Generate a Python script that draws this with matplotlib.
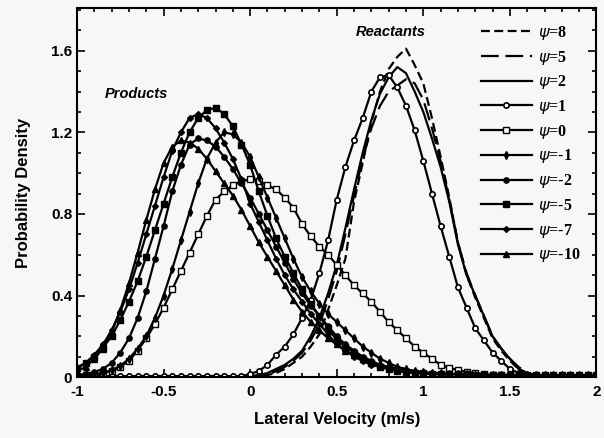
import matplotlib
matplotlib.use("Agg")
import matplotlib.pyplot as plt
from matplotlib.ticker import FixedLocator, FixedFormatter, MultipleLocator

# lateral velocity grid (m/s)
vel = [-1.0, -0.95, -0.9, -0.85, -0.8, -0.75, -0.7, -0.65, -0.6, -0.55,
       -0.5, -0.45, -0.4, -0.35, -0.3, -0.25, -0.2, -0.15, -0.1, -0.05,
       0.0, 0.05, 0.1, 0.15, 0.2, 0.25, 0.3, 0.35, 0.4, 0.45,
       0.5, 0.55, 0.6, 0.65, 0.7, 0.75, 0.8, 0.85, 0.9, 0.95,
       1.0, 1.05, 1.1, 1.15, 1.2, 1.25, 1.3, 1.35, 1.4, 1.45,
       1.5, 1.55, 1.6, 1.65, 1.7, 1.75, 1.8, 1.85, 1.9, 1.95, 2.0]

# reactant side
psi_8 = [0, 0, 0, 0, 0, 0, 0, 0, 0, 0,
         0, 0, 0, 0, 0, 0, 0, 0, 0, 0,
         0, 0.005, 0.01, 0.02, 0.04, 0.07, 0.10, 0.15, 0.21, 0.33,
         0.45, 0.58, 0.86, 1.05, 1.25, 1.40, 1.51, 1.57, 1.61, 1.53,
         1.44, 1.27, 1.08, 0.88, 0.66, 0.50, 0.39, 0.29, 0.19, 0.13,
         0.08, 0.04, 0.02, 0.01, 0.005, 0, 0, 0, 0, 0, 0]
psi_5 = [0, 0, 0, 0, 0, 0, 0, 0, 0, 0,
         0, 0, 0, 0, 0, 0, 0, 0, 0, 0,
         0, 0.005, 0.01, 0.03, 0.05, 0.08, 0.12, 0.18, 0.26, 0.38,
         0.52, 0.70, 0.89, 1.07, 1.22, 1.33, 1.40, 1.43, 1.46, 1.44,
         1.36, 1.22, 1.06, 0.87, 0.66, 0.51, 0.40, 0.30, 0.20, 0.14,
         0.09, 0.05, 0.02, 0.01, 0.005, 0, 0, 0, 0, 0, 0]
psi_2 = [0, 0, 0, 0, 0, 0, 0, 0, 0, 0,
         0, 0, 0, 0, 0, 0, 0, 0, 0, 0,
         0.005, 0.01, 0.02, 0.04, 0.06, 0.09, 0.13, 0.20, 0.29, 0.41,
         0.55, 0.73, 0.92, 1.10, 1.26, 1.39, 1.47, 1.52, 1.49, 1.40,
         1.30, 1.17, 1.03, 0.86, 0.65, 0.50, 0.40, 0.30, 0.20, 0.14,
         0.09, 0.04, 0.02, 0.01, 0.005, 0, 0, 0, 0, 0, 0]
psi_1 = [0.005, 0.005, 0.005, 0.005, 0.005, 0.005, 0.005, 0.005, 0.005, 0.005,
         0.005, 0.005, 0.005, 0.005, 0.005, 0.005, 0.005, 0.005, 0.005, 0.005,
         0.015, 0.03, 0.06, 0.11, 0.15, 0.21, 0.29, 0.38, 0.51, 0.67,
         0.87, 1.03, 1.16, 1.27, 1.40, 1.47, 1.48, 1.42, 1.33, 1.21,
         1.06, 0.90, 0.74, 0.59, 0.44, 0.34, 0.24, 0.18, 0.12, 0.08,
         0.04, 0.02, 0.01, 0.005, 0, 0, 0, 0, 0, 0, 0]

# product side
psi_0 = [0.005, 0.01, 0.01, 0.02, 0.03, 0.05, 0.08, 0.13, 0.19, 0.26,
         0.34, 0.43, 0.52, 0.61, 0.70, 0.79, 0.87, 0.91, 0.94, 0.96,
         0.97, 0.96, 0.94, 0.92, 0.88, 0.83, 0.75, 0.69, 0.64, 0.60,
         0.55, 0.50, 0.45, 0.41, 0.37, 0.32, 0.27, 0.23, 0.19, 0.15,
         0.12, 0.09, 0.06, 0.045, 0.035, 0.025, 0.02, 0.015, 0.01, 0.008,
         0.005, 0.005, 0.003, 0, 0, 0, 0, 0, 0, 0, 0]
psi_m1 = [0.01, 0.01, 0.015, 0.02, 0.035, 0.055, 0.09, 0.14, 0.20, 0.29,
          0.40, 0.53, 0.67, 0.81, 0.95, 1.07, 1.15, 1.20, 1.19, 1.15,
          1.08, 0.98, 0.88, 0.78, 0.68, 0.58, 0.49, 0.42, 0.36, 0.31,
          0.27, 0.23, 0.19, 0.15, 0.12, 0.09, 0.07, 0.05, 0.04, 0.03,
          0.025, 0.02, 0.02, 0.015, 0.015, 0.015, 0.01, 0.01, 0.01, 0.01,
          0.01, 0.01, 0.01, 0.01, 0.01, 0.01, 0.01, 0.01, 0.01, 0.01, 0.01]
psi_m2 = [0.01, 0.015, 0.025, 0.04, 0.07, 0.12, 0.19, 0.29, 0.42, 0.58,
          0.74, 0.91, 1.04, 1.14, 1.17, 1.16, 1.13, 1.08, 1.02, 0.95,
          0.88, 0.80, 0.72, 0.64, 0.56, 0.48, 0.41, 0.35, 0.30, 0.25,
          0.20, 0.16, 0.13, 0.10, 0.08, 0.06, 0.05, 0.04, 0.03, 0.025,
          0.02, 0.015, 0.015, 0.015, 0.015, 0.01, 0.01, 0.01, 0.01, 0.01,
          0.01, 0.01, 0.01, 0.01, 0.01, 0.01, 0.01, 0.01, 0.01, 0.01, 0.01]
psi_m5 = [0.045, 0.07, 0.10, 0.145, 0.20, 0.28, 0.37, 0.47, 0.59, 0.72,
          0.85, 0.98, 1.10, 1.20, 1.27, 1.31, 1.32, 1.29, 1.23, 1.14,
          1.04, 0.91, 0.79, 0.68, 0.59, 0.51, 0.43, 0.36, 0.30, 0.24,
          0.18, 0.15, 0.12, 0.09, 0.07, 0.05, 0.04, 0.03, 0.025, 0.02,
          0.02, 0.015, 0.015, 0.015, 0.015, 0.015, 0.01, 0.01, 0.01, 0.01,
          0.01, 0.01, 0.01, 0.01, 0.01, 0.01, 0.01, 0.01, 0.01, 0.01, 0.01]
psi_m7 = [0.045, 0.07, 0.11, 0.16, 0.23, 0.32, 0.43, 0.56, 0.70, 0.84,
          0.98, 1.11, 1.20, 1.27, 1.29, 1.27, 1.22, 1.15, 1.07, 0.97,
          0.85, 0.76, 0.67, 0.58, 0.50, 0.43, 0.37, 0.31, 0.26, 0.21,
          0.16, 0.13, 0.10, 0.08, 0.06, 0.05, 0.04, 0.03, 0.025, 0.02,
          0.02, 0.015, 0.015, 0.015, 0.015, 0.01, 0.01, 0.01, 0.01, 0.01,
          0.01, 0.01, 0.01, 0.01, 0.01, 0.01, 0.01, 0.01, 0.01, 0.01, 0.01]
psi_m10 = [0.03, 0.05, 0.09, 0.14, 0.22, 0.33, 0.46, 0.61, 0.77, 0.92,
           1.05, 1.13, 1.16, 1.15, 1.12, 1.07, 1.01, 0.95, 0.89, 0.82,
           0.74, 0.66, 0.59, 0.52, 0.45, 0.38, 0.32, 0.27, 0.23, 0.19,
           0.16, 0.13, 0.11, 0.09, 0.07, 0.06, 0.05, 0.04, 0.03, 0.025,
           0.02, 0.02, 0.015, 0.015, 0.015, 0.015, 0.01, 0.01, 0.01, 0.01,
           0.01, 0.01, 0.01, 0.01, 0.01, 0.01, 0.01, 0.01, 0.01, 0.01, 0.01]

labels = ["8", "5", "2", "1", "0", "-1", "-2", "-5", "-7", "-10"]
series = [psi_8, psi_5, psi_2, psi_1, psi_0, psi_m1, psi_m2, psi_m5, psi_m7, psi_m10]

x_ticks = [-1, -0.5, 0, 0.5, 1, 1.5, 2]
x_tick_labels = ["-1", "-0.5", "0", "0.5", "1", "1.5", "2"]
y_ticks = [0, 0.4, 0.8, 1.2, 1.6]
y_tick_labels = ["0", "0.4", "0.8", "1.2", "1.6"]

# line style for each curve (same order as labels)
styles = [
    dict(ls="--", dashes=(4, 2), marker=None),
    dict(ls="--", dashes=(8, 3), marker=None),
    dict(ls="-", marker=None),
    dict(ls="-", marker="o", ms=3.8, mfc="white", mew=1.2),
    dict(ls="-", marker="s", ms=3.8, mfc="white", mew=1.0),
    dict(ls="-", marker="d", ms=3.8),
    dict(ls="-", marker="o", ms=3.8),
    dict(ls="-", marker="s", ms=3.8),
    dict(ls="-", marker="D", ms=3.0),
    dict(ls="-", marker="^", ms=4.2),
]

bg = "#f7f7f7"
plt.rcParams["font.family"] = ["Liberation Sans", "DejaVu Sans"]

fig = plt.figure(figsize=(6.04, 4.38), dpi=100, facecolor=bg)
ax = fig.add_axes([0.1275, 0.139, 0.86, 0.843])
ax.set_facecolor(bg)

for vals, lab, st in zip(series, labels, styles):
    ax.plot(vel, vals, color="black", lw=1.6, mec="black",
            label=r"$\psi$=" + lab, **st)

ax.set_xlim(-1, 2)
ax.set_ylim(0, 1.81)

ax.xaxis.set_major_locator(FixedLocator(x_ticks))
ax.xaxis.set_major_formatter(FixedFormatter(x_tick_labels))
ax.yaxis.set_major_locator(FixedLocator(y_ticks))
ax.yaxis.set_major_formatter(FixedFormatter(y_tick_labels))
ax.xaxis.set_minor_locator(MultipleLocator(0.1))
ax.yaxis.set_minor_locator(MultipleLocator(0.1))
ax.tick_params(which="both", direction="in", top=True, right=True, width=1.2)
ax.tick_params(which="major", length=6, labelsize=11)
ax.tick_params(which="minor", length=3)
ax.tick_params(axis="x", which="major", pad=6)
for t in ax.get_xticklabels() + ax.get_yticklabels():
    t.set_fontweight("bold")
for s in ax.spines.values():
    s.set_linewidth(1.5)

ax.set_xlabel("Lateral Velocity (m/s)", fontsize=12, fontweight="bold", labelpad=9)
ax.set_ylabel("Probability Density", fontsize=12, fontweight="bold", labelpad=14)

ax.text(-0.84, 1.39, "Products", fontsize=10.5, fontweight="bold",
        style="italic", va="center")
ax.text(0.61, 1.69, "Reactants", fontsize=10.5, fontweight="bold",
        style="italic", va="center")

leg = ax.legend(loc="upper right", frameon=False, handlelength=3.2,
                labelspacing=0.42, borderaxespad=0.6,
                handletextpad=0.4,
                prop={"family": "Liberation Serif", "weight": "bold", "size": 11.5})

fig.savefig("out.png", dpi=100, facecolor=bg)
